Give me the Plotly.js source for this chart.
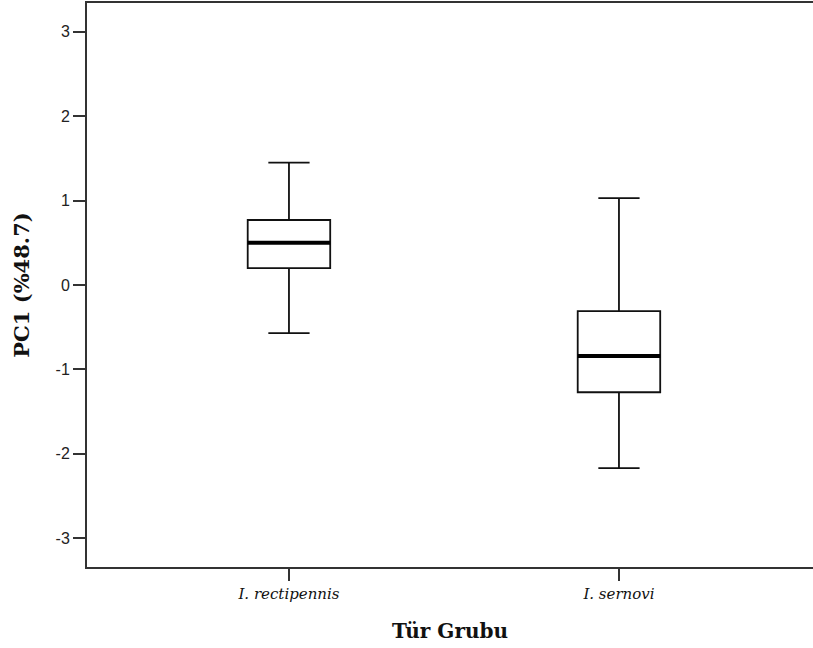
<!DOCTYPE html>
<html>
<head>
<meta charset="utf-8">
<script src="https://cdn.plot.ly/plotly-3.0.1.min.js"></script>
<style>html,body{margin:0;padding:0;background:#fff;}</style>
</head>
<body>
<div id="chart" style="width:813px;height:648px;"></div>
<script>
// Species groups and the five-number summaries of PC1 scores
const groups = ['I. rectipennis', 'I. sernovi'];
const lowerWhisker = [-0.57, -2.17];
const q1 = [0.20, -1.27];
const median = [0.50, -0.84];
const q3 = [0.77, -0.31];
const upperWhisker = [1.45, 1.03];
const yTicks = [-3, -2, -1, 0, 1, 2, 3];

const positions = groups.map((_, i) => i);
const boxWidth = 0.25;
const axisColor = '#333';

// Boxes and whiskers
const boxes = {
  type: 'box',
  x: positions,
  q1: q1,
  median: median,
  q3: q3,
  lowerfence: lowerWhisker,
  upperfence: upperWhisker,
  width: boxWidth,
  whiskerwidth: 0.5,
  fillcolor: '#ffffff',
  line: {color: '#111', width: 1.8},
  boxpoints: false,
  hoverinfo: 'skip',
  showlegend: false
};

// Heavier median bars drawn over each box
const medX = [], medY = [];
positions.forEach((p, i) => {
  medX.push(p - boxWidth / 2, p + boxWidth / 2, null);
  medY.push(median[i], median[i], null);
});
const medians = {
  type: 'scatter',
  mode: 'lines',
  x: medX,
  y: medY,
  line: {color: '#000', width: 4},
  hoverinfo: 'skip',
  showlegend: false
};

const layout = {
  width: 813,
  height: 648,
  margin: {l: 87, r: 0, t: 3, b: 81},
  paper_bgcolor: '#fff',
  plot_bgcolor: '#fff',
  showlegend: false,
  xaxis: {
    range: [-0.612, 1.588],
    tickmode: 'array',
    tickvals: positions,
    ticktext: groups,
    ticks: 'outside',
    ticklen: 12,
    tickwidth: 2,
    tickcolor: axisColor,
    tickfont: {family: 'DejaVu Serif', size: 15, style: 'italic', color: '#111'},
    showline: true,
    linewidth: 2,
    linecolor: axisColor,
    mirror: true,
    showgrid: false,
    zeroline: false,
    fixedrange: true,
    title: {text: 'Tür Grubu', font: {family: 'DejaVu Serif', size: 20, weight: 'bold', color: '#111'}, standoff: 22}
  },
  yaxis: {
    range: [-3.34, 3.34],
    tickmode: 'array',
    tickvals: yTicks,
    ticktext: yTicks.map(String),
    ticks: 'outside',
    ticklen: 12,
    tickwidth: 2,
    tickcolor: axisColor,
    tickfont: {family: 'Liberation Sans', size: 16, color: '#222'},
    showline: true,
    linewidth: 2,
    linecolor: axisColor,
    mirror: false,
    showgrid: false,
    zeroline: false,
    fixedrange: true,
    title: {text: 'PC1 (%48.7)', font: {family: 'DejaVu Serif', size: 21, weight: 'bold', color: '#111'}, standoff: 20}
  }
};

Plotly.newPlot('chart', [boxes, medians], layout, {displayModeBar: false, staticPlot: true});
</script>
</body>
</html>
